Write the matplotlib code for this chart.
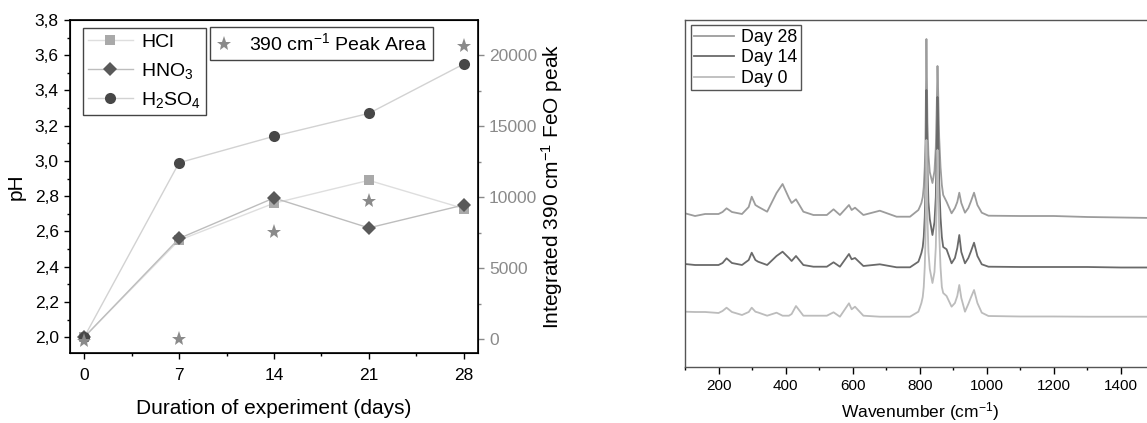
import numpy as np
import matplotlib
matplotlib.use("Agg")
import matplotlib.pyplot as plt
from matplotlib.ticker import MultipleLocator, FuncFormatter

plt.rcParams['font.family'] = ['Liberation Sans', 'DejaVu Sans']
plt.rcParams['mathtext.default'] = 'regular'

# ---- left panel data: pH over time, plus 390 cm-1 peak area ----
days = [0, 7, 14, 21, 28]
ph_hcl = [2.00, 2.55, 2.76, 2.89, 2.73]
ph_hno3 = [2.00, 2.56, 2.79, 2.62, 2.75]
ph_h2so4 = [2.00, 2.99, 3.14, 3.27, 3.55]
peak_area = [-150, 0, 7550, 9750, 20650]

# ---- right panel data: Raman spectra (stacked, arbitrary units) ----
wavenumber = [100, 130, 160, 200, 212, 224, 240, 270, 290, 299, 310, 318, 345,
              373, 391, 410, 418, 431, 453, 483, 523, 543, 562, 589, 597, 607,
              632, 681, 731, 771, 796, 800, 805, 809, 812, 815, 817, 819, 820,
              821, 823, 826, 830, 838, 844, 848, 851, 853, 855, 858, 862, 866,
              870, 880, 895, 905, 912, 918, 924, 935, 945, 952, 962, 972, 985,
              1005, 1100, 1200, 1300, 1400, 1500]
day28 = [153.7, 151, 153, 153, 155, 158.7, 155, 153, 160, 170.3, 162, 160.3, 155.3,
         174, 183, 169, 164, 167.7, 155.3, 152, 152, 157.7, 152, 162, 157, 159.3,
         152, 156.3, 150.3, 150.3, 157, 160, 164, 170, 180, 200, 225, 290, 328,
         300, 245, 212, 195, 184, 196, 220, 265, 301, 275, 230, 200, 182,
         172, 165.3, 153.7, 159, 165, 174.3, 164, 154.3, 159, 165, 174.3, 162, 154.3,
         151.3, 151, 151, 150, 149.5, 149]
day14 = [103, 102, 102, 102, 104, 108.7, 104, 102, 107, 114.3, 107, 105.3, 102,
         111, 115.3, 109, 106, 111, 102, 100.3, 100.3, 104.7, 100.3, 113, 107.7, 109,
         101, 102.7, 99.7, 99.7, 105.3, 109, 114, 120, 130, 150, 175, 240, 277,
         255, 200, 165, 148, 132, 145, 170, 225, 270, 240, 185, 150, 130,
         120, 117.7, 103.7, 109, 119, 132, 115, 103.7, 109, 115, 124.3, 111, 102.7,
         100.3, 100, 100, 100, 99.5, 99.5]
day0 = [55.3, 55, 55, 54, 56, 59.3, 55, 52, 55, 59.3, 55.3, 54.5, 51.3,
        54.3, 51.3, 51.3, 53, 61, 51.3, 51.3, 51.3, 54.7, 50.3, 63.7, 57.7, 60.3,
        51.3, 50.3, 50.3, 50.3, 55.3, 59, 64, 70, 80, 100, 125, 190, 227,
        205, 150, 115, 98, 84, 95, 120, 175, 217, 190, 135, 100, 80,
        74, 71, 60.3, 64, 71, 82, 69, 55.3, 63, 69, 77, 64, 54.3,
        51, 50.5, 50.5, 50.3, 50.3, 50.3]

fig = plt.figure(figsize=(11.47, 4.23), dpi=100)

# ================= left panel =================
ax = fig.add_axes([0.0610, 0.1655, 0.3557, 0.7872])
line_kw = dict(lw=1.0, markeredgewidth=0)
ax.plot(days, ph_hcl, color='#dedede', marker='s', ms=6.5, mfc='#a9a9a9', label='HCl', **line_kw)
ax.plot(days, ph_hno3, color='#bdbdbd', marker='D', ms=7, mfc='#595959', label='HNO$_3$', **line_kw)
ax.plot(days, ph_h2so4, color='#d2d2d2', marker='o', ms=8, mfc='#474747', label='H$_2$SO$_4$', **line_kw)

ax.set_xlim(-1.05, 29.05)
ax.set_ylim(1.91, 3.8)
ax.set_xticks(days)
ax.xaxis.set_minor_locator(MultipleLocator(3.5))
ax.yaxis.set_major_locator(MultipleLocator(0.2))
ax.yaxis.set_minor_locator(MultipleLocator(0.1))
ax.yaxis.set_major_formatter(FuncFormatter(lambda v, p: f"{v:.1f}".replace('.', ',')))
ax.tick_params(which='major', direction='out', length=4.5, width=1, labelsize=12.5)
ax.tick_params(axis='x', which='major', pad=6)
ax.tick_params(which='minor', direction='out', length=2.5, width=1)
ax.tick_params(axis='x', top=False)
for s in ax.spines.values():
    s.set_linewidth(1.2)
ax.set_xlabel('Duration of experiment (days)', fontsize=15, labelpad=12)
ax.set_ylabel('pH', fontsize=15)
ax.yaxis.set_label_coords(-0.108, 0.5)

leg = ax.legend(loc='upper left', bbox_to_anchor=(0.032, 0.975), fontsize=14,
                frameon=True, fancybox=False, edgecolor='#444444', framealpha=1,
                handlelength=2.3, labelspacing=0.5, borderpad=0.25, handletextpad=0.45,
                borderaxespad=0)
leg.get_frame().set_linewidth(1.0)

ax2 = ax.twinx()
ax2.plot(days, peak_area, ls='none', marker='*', ms=11, color='#8a8a8a',
         markeredgewidth=0, label='390 cm$^{-1}$ Peak Area')
ax2.set_ylim(-965, 22465)
ax2.yaxis.set_major_locator(MultipleLocator(5000))
ax2.yaxis.set_minor_locator(MultipleLocator(2500))
ax2.tick_params(which='major', direction='out', length=4.5, width=1, labelsize=12.5,
                labelcolor='#8a8a8a', color='#8a8a8a')
ax2.tick_params(which='minor', direction='out', length=2.5, width=1, color='#8a8a8a')
ax2.set_ylabel('Integrated 390 cm$^{-1}$ FeO peak', fontsize=15)
ax2.yaxis.set_label_coords(1.15, 0.5)
leg2 = ax2.legend(loc='upper left', bbox_to_anchor=(0.343, 0.98), fontsize=14,
                  frameon=True, fancybox=False, edgecolor='#444444', framealpha=1,
                  handlelength=0.8, borderpad=0.3, handletextpad=0.9, borderaxespad=0)
leg2.get_frame().set_linewidth(1.0)

# ================= right panel =================
bx = fig.add_axes([0.5972, 0.1324, 0.4093, 0.8203])
bx.plot(wavenumber, day28, color='#9c9c9c', lw=1.3, label='Day 28')
bx.plot(wavenumber, day14, color='#6a6a6a', lw=1.3, label='Day 14')
bx.plot(wavenumber, day0, color='#bcbcbc', lw=1.3, label='Day 0')
bx.set_xlim(100, 1500)
bx.set_ylim(0, 347)
bx.set_yticks([])
bx.set_xticks([200, 400, 600, 800, 1000, 1200, 1400])
bx.xaxis.set_minor_locator(MultipleLocator(100))
bx.tick_params(which='major', direction='out', length=5, width=1, labelsize=11)
bx.tick_params(which='minor', direction='out', length=2.5, width=1)
for s in bx.spines.values():
    s.set_color('#555555')
    s.set_linewidth(1.0)
bx.set_xlabel('Wavenumber (cm$^{-1}$)', fontsize=12.5, labelpad=5)
leg3 = bx.legend(loc='upper left', bbox_to_anchor=(0.012, 0.985), fontsize=12.8,
                 frameon=True, fancybox=False, edgecolor='#555555', framealpha=1,
                 handlelength=2.25, labelspacing=0.2, borderpad=0.2, handletextpad=0.4,
                 borderaxespad=0)
leg3.get_frame().set_linewidth(1.0)

fig.savefig('out.png', dpi=100)
